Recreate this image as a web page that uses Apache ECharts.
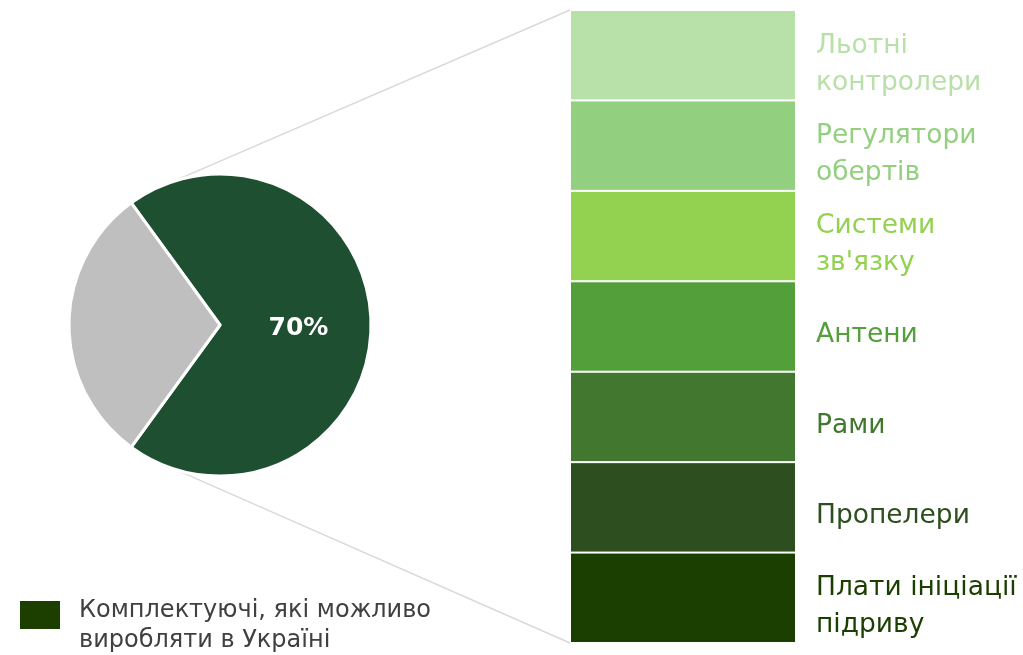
<!DOCTYPE html>
<html>
<head>
<meta charset="utf-8">
<script src="https://cdn.jsdelivr.net/npm/echarts@6/dist/echarts.min.js"></script>
<style>
html,body{margin:0;padding:0;background:#fff;}
#chart{width:1023px;height:655px;}
</style>
</head>
<body>
<div id="chart"></div>
<script>
// Pie data
const pieNames = ['Комплектуючі, які можливо виробляти в Україні', 'Інші комплектуючі'];
const pieValues = [70, 30];
const pieColors = ['#1E4F30', '#BFBFBF'];
const legendColor = '#1C3F00';
const legendLines = ['Комплектуючі, які можливо', 'виробляти в Україні'];

// Breakdown bar (bottom to top)
const segNames = ['Плати ініціації підриву', 'Пропелери', 'Рами', 'Антени', 'Системи зв\'язку', 'Регулятори обертів', 'Льотні контролери'];
const segLabels = ['Плати ініціації\nпідриву', 'Пропелери', 'Рами', 'Антени', 'Системи\nзв\'язку', 'Регулятори\nобертів', 'Льотні\nконтролери'];
const segValues = [1, 1, 1, 1, 1, 1, 1];
const segColors = ['#1B3F00', '#2D4F1F', '#41772E', '#539F3A', '#93D150', '#92D07F', '#B8E0A9'];

const FONT = 'DejaVu Sans';
const pieCenter = [220, 325];
const pieRadius = 151;

const chart = echarts.init(document.getElementById('chart'));

const barSeries = segNames.map((n, i) => ({
  type: 'bar',
  name: n,
  stack: 'total',
  barWidth: '100%',
  data: [segValues[i]],
  itemStyle: { color: segColors[i], borderColor: '#ffffff', borderWidth: 1 },
  label: {
    show: true,
    position: 'right',
    distance: 20,
    offset: [0, 9],
    formatter: () => segLabels[i],
    color: segColors[i],
    fontFamily: FONT,
    fontSize: 26.5,
    lineHeight: 37,
    align: 'left'
  },
  emphasis: { disabled: true }
}));

const option = {
  animation: false,
  backgroundColor: '#ffffff',
  grid: { left: 570, top: 10, width: 226, height: 633 },
  xAxis: { type: 'category', data: ['all'], show: false },
  yAxis: { type: 'value', min: 0, max: 7, show: false },
  legend: {
    left: 20,
    top: 580,
    padding: 0,
    icon: 'rect',
    itemWidth: 40,
    itemHeight: 28,
    itemGap: 20,
    selectedMode: false,
    itemStyle: { borderWidth: 0 },
    data: [{ name: pieNames[0], itemStyle: { color: legendColor, borderWidth: 0 } }],
    formatter: () => '{s| }\n{a|' + legendLines[0] + '}\n{a|' + legendLines[1] + '}',
    textStyle: {
      fontFamily: FONT, fontSize: 24, color: '#404040', padding: [0, 0, 0, 14],
      rich: {
        s: { fontSize: 10, lineHeight: 22 },
        a: { fontFamily: FONT, fontSize: 24, lineHeight: 30, color: '#404040' }
      }
    }
  },
  series: [
    {
      type: 'pie',
      z: 3,
      center: pieCenter,
      radius: pieRadius,
      startAngle: 126,
      clockwise: true,
      itemStyle: { borderColor: '#ffffff', borderWidth: 3 },
      label: {
        show: true,
        position: 'inside',
        formatter: '{d}%',
        color: '#ffffff',
        fontFamily: FONT,
        fontWeight: 'bold',
        fontSize: 25,
        offset: [0, 3]
      },
      labelLine: { show: false },
      emphasis: { disabled: true },
      data: pieValues.map((v, i) => ({
        name: pieNames[i],
        value: v,
        itemStyle: { color: pieColors[i] },
        label: i === 0 ? {} : { show: false }
      }))
    },
    ...barSeries
  ]
};
chart.setOption(option);

// connector lines from pie edge to bar corners
const total = segValues.reduce((a, b) => a + b, 0);
const topPt = chart.convertToPixel({ gridIndex: 0 }, [0, total]);
const botPt = chart.convertToPixel({ gridIndex: 0 }, [0, 0]);
const barLeft = 570;
function edge(angDeg) {
  const a = angDeg * Math.PI / 180;
  return [pieCenter[0] + pieRadius * Math.cos(a), pieCenter[1] - pieRadius * Math.sin(a)];
}
const p1 = edge(108);
const p2 = edge(252);
chart.setOption({
  graphic: [
    { type: 'line', z: 0, shape: { x1: p1[0], y1: p1[1], x2: barLeft, y2: topPt[1] }, style: { stroke: '#D9D9D9', lineWidth: 1.5 } },
    { type: 'line', z: 0, shape: { x1: p2[0], y1: p2[1], x2: barLeft, y2: botPt[1] }, style: { stroke: '#D9D9D9', lineWidth: 1.5 } }
  ]
});
</script>
</body>
</html>
